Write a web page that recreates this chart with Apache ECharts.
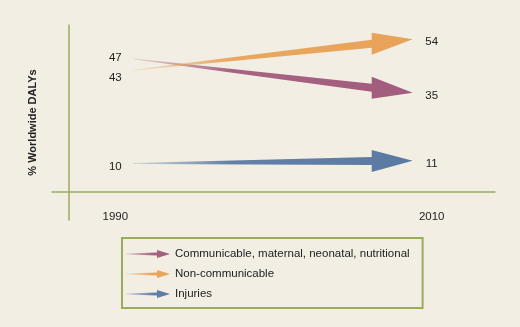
<!DOCTYPE html>
<html><head><meta charset="utf-8">
<script src="https://cdn.jsdelivr.net/npm/echarts@6/dist/echarts.min.js"></script>
<style>html,body{margin:0;padding:0;background:#f2eee4;}#c{width:520px;height:327px;}</style>
</head><body><div id="c"></div>
<script>
const years = [1990, 2010];
const yearLabels = ['1990', '2010'];
const categories = ['Communicable, maternal, neonatal, nutritional', 'Non-communicable', 'Injuries'];
const values1990 = [47, 43, 10];
const values2010 = [35, 54, 11];
const colors = ['#a25c7d', '#e8a358', '#5b7aa3'];
const axisTitle = '% Worldwide DALYs';

const FONT = "'Liberation Sans', Arial, Helvetica, sans-serif";
const LABEL_SIZE = 11.5;

function hexA(hex, a) {
  const n = parseInt(hex.slice(1), 16);
  return 'rgba(' + (n >> 16) + ',' + ((n >> 8) & 255) + ',' + (n & 255) + ',' + a + ')';
}

function fade(color, mid) {
  return {
    type: 'linear', x: 0, y: 0, x2: 1, y2: 0,
    colorStops: [
      { offset: 0, color: hexA(color, 0.2) },
      { offset: mid, color: hexA(color, 0.95) },
      { offset: 1, color: color }
    ]
  };
}

// spread labels of one column so they do not overlap
function labelY(api, year, vals, idx) {
  const ys = vals.map(function (v) { return api.coord([year, v])[1]; });
  let y = ys[idx];
  const minGap = 20;
  for (let j = 0; j < ys.length; j++) {
    if (j === idx) continue;
    const d = ys[idx] - ys[j];
    if (Math.abs(d) < minGap) {
      const mid = (ys[idx] + ys[j]) / 2;
      y = mid + (d >= 0 ? 1 : -1) * minGap / 2;
    }
  }
  return y + 3;
}

function renderArrow(params, api) {
  const i = params.seriesIndex;
  const s = api.value(0), e = api.value(1);
  const p0 = api.coord([years[0], s]);
  const p1 = api.coord([years[1], e]);
  const a = [p0[0] + 18, p0[1]];
  const b = [p1[0] - 19, p1[1]];
  const slope = (b[1] - a[1]) / (b[0] - a[0]);
  const headLen = 41, headHalf = 11, w0 = 0.4, w1 = 4;
  const bx = b[0] - headLen, by = b[1] - slope * headLen;
  const color = colors[i];
  const pts = [
    [a[0], a[1] - w0], [bx, by - w1], [bx, by - headHalf], [b[0], b[1]],
    [bx, by + headHalf], [bx, by + w1], [a[0], a[1] + w0]
  ];
  return {
    type: 'group',
    children: [
      { type: 'polygon', shape: { points: pts }, style: { fill: fade(color, 0.35) } },
      {
        type: 'text',
        x: p0[0], y: labelY(api, years[0], values1990, i),
        style: { text: String(s), align: 'center', verticalAlign: 'middle', fontSize: LABEL_SIZE, fontFamily: FONT, fill: '#222' }
      },
      {
        type: 'text',
        x: p1[0], y: labelY(api, years[1], values2010, i),
        style: { text: String(e), align: 'center', verticalAlign: 'middle', fontSize: LABEL_SIZE, fontFamily: FONT, fill: '#222' }
      }
    ]
  };
}

const chart = echarts.init(document.getElementById('c'), null, { renderer: 'canvas' });
const axisColor = '#9aac5c';
chart.setOption({
  backgroundColor: '#f2eee4',
  animation: false,
  textStyle: { fontFamily: FONT },
  grid: [
    { left: 52, right: 25, top: 25, bottom: 131 },
    { left: 69, right: 25, top: 25, bottom: 107 }
  ],
  xAxis: [
    {
      gridIndex: 0, type: 'value', min: 1986, max: 2014,
      axisLine: { show: true, lineStyle: { color: axisColor, width: 1.5 } },
      axisTick: { show: false },
      splitLine: { show: false },
      axisLabel: {
        customValues: years,
        formatter: function (v) { const i = years.indexOf(v); return i >= 0 ? yearLabels[i] : ''; },
        margin: 15, fontSize: LABEL_SIZE, color: '#222', fontFamily: FONT
      }
    },
    { gridIndex: 1, type: 'value', show: false }
  ],
  yAxis: [
    { gridIndex: 0, type: 'value', min: -1.5, max: 59, show: false },
    {
      gridIndex: 1, type: 'value', min: 0, max: 1,
      axisLine: { show: true, lineStyle: { color: axisColor, width: 1.5 } },
      axisTick: { show: false }, axisLabel: { show: false }, splitLine: { show: false },
      name: axisTitle, nameLocation: 'middle', nameGap: 31,
      nameTextStyle: { fontSize: 11, fontWeight: 'bold', color: '#222', fontFamily: FONT }
    }
  ],
  legend: {
    orient: 'vertical', left: 122, top: 238,
    borderColor: axisColor, borderWidth: 2, padding: [9, 13, 7, 4],
    itemGap: 6, itemWidth: 44, itemHeight: 8,
    icon: 'path://M0,3.6 L31,2.6 L31,0 L44,4 L31,8 L31,5.4 L0,4.4 Z',
    textStyle: { fontSize: LABEL_SIZE, color: '#222', lineHeight: 14, fontFamily: FONT },
    data: categories.map(function (name, i) {
      return { name: name, itemStyle: { color: fade(colors[i], 0.6) } };
    })
  },
  series: categories.map(function (name, i) {
    return {
      type: 'custom', name: name,
      xAxisIndex: 0, yAxisIndex: 0,
      itemStyle: { color: colors[i] },
      renderItem: renderArrow,
      data: [[values1990[i], values2010[i]]]
    };
  })
});
</script></body></html>
